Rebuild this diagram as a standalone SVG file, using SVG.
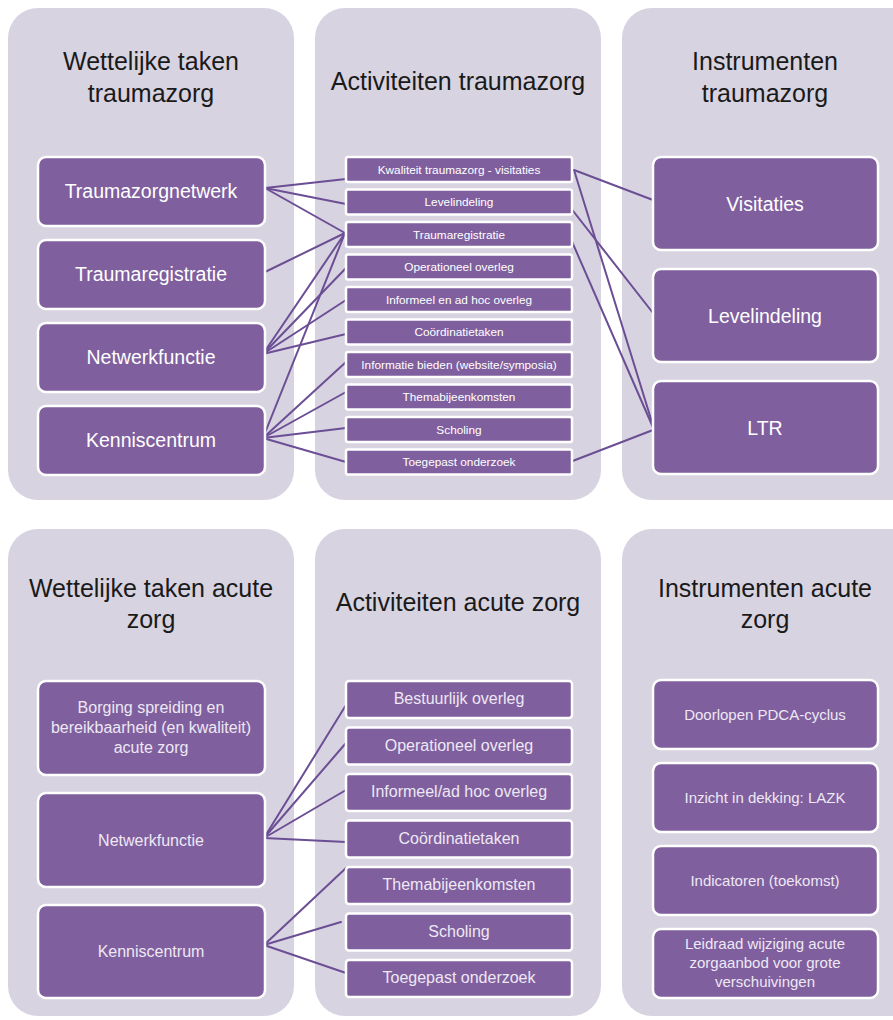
<svg xmlns="http://www.w3.org/2000/svg" width="893" height="1020" viewBox="0 0 893 1020">
<defs>
<style>
.panel{fill:#d8d3e1}
.box{fill:#7f5f9e;stroke:#ffffff;stroke-width:2.5}
.title{font-family:"Liberation Sans",Arial,sans-serif;font-size:25px;fill:#1a1a1a;text-anchor:middle}
.big{font-family:"Liberation Sans",Arial,sans-serif;font-size:19.5px;fill:#ffffff;text-anchor:middle}
.act{font-family:"Liberation Sans",Arial,sans-serif;font-size:11.8px;fill:#ffffff;text-anchor:middle}
.lbl{font-family:"Liberation Sans",Arial,sans-serif;font-size:16px;fill:#eee8f4;text-anchor:middle}
.ins{font-family:"Liberation Sans",Arial,sans-serif;font-size:15px;fill:#eee8f4;text-anchor:middle}
.conn line{stroke:#6b4e94;stroke-width:2;stroke-linecap:round}
</style>
</defs>
<rect width="893" height="1020" fill="#ffffff"/>

<!-- Panels -->
<g id="panel-wettelijk-trauma"><rect class="panel" x="8" y="8" width="286" height="492" rx="30"/>
<text class="title" x="151" y="70">Wettelijke taken</text><text class="title" x="151" y="102">traumazorg</text></g>
<g id="panel-activiteiten-trauma"><rect class="panel" x="315" y="8" width="286" height="492" rx="30"/>
<text class="title" x="458" y="90">Activiteiten traumazorg</text></g>
<g id="panel-instrumenten-trauma"><rect class="panel" x="622" y="8" width="300" height="492" rx="30"/>
<text class="title" x="765" y="70">Instrumenten</text><text class="title" x="765" y="102">traumazorg</text></g>
<g id="panel-wettelijk-acuut"><rect class="panel" x="8" y="529" width="286" height="487" rx="30"/>
<text class="title" x="151" y="597">Wettelijke taken acute</text><text class="title" x="151" y="628">zorg</text></g>
<g id="panel-activiteiten-acuut"><rect class="panel" x="315" y="529" width="286" height="487" rx="30"/>
<text class="title" x="458" y="611">Activiteiten acute zorg</text></g>
<g id="panel-instrumenten-acuut"><rect class="panel" x="622" y="529" width="300" height="487" rx="30"/>
<text class="title" x="765" y="597">Instrumenten acute</text><text class="title" x="765" y="628">zorg</text></g>

<!-- Connectors -->
<g id="connectors" class="conn">
<line x1="265" y1="188" x2="346" y2="179"/>
<line x1="265" y1="188" x2="346" y2="204"/>
<line x1="265" y1="188" x2="345" y2="233"/>
<line x1="265" y1="272" x2="345" y2="233"/>
<line x1="263" y1="354" x2="345" y2="233"/>
<line x1="263" y1="354" x2="346" y2="268"/>
<line x1="263" y1="354" x2="346" y2="300"/>
<line x1="263" y1="354" x2="346" y2="334"/>
<line x1="263" y1="438" x2="345" y2="233"/>
<line x1="263" y1="438" x2="346" y2="362"/>
<line x1="263" y1="438" x2="346" y2="392"/>
<line x1="263" y1="438" x2="346" y2="428"/>
<line x1="263" y1="438" x2="346" y2="462"/>
<line x1="574" y1="170" x2="653" y2="200"/>
<line x1="574" y1="170" x2="655" y2="432"/>
<line x1="570" y1="207" x2="653" y2="313"/>
<line x1="570" y1="237" x2="655" y2="432"/>
<line x1="570" y1="462" x2="653" y2="430"/>
<line x1="264" y1="838" x2="346" y2="705"/>
<line x1="264" y1="838" x2="346" y2="743"/>
<line x1="264" y1="838" x2="346" y2="790"/>
<line x1="264" y1="838" x2="346" y2="842"/>
<line x1="264" y1="945" x2="346" y2="868"/>
<line x1="264" y1="945" x2="341" y2="922"/>
<line x1="264" y1="945" x2="346" y2="973"/>
</g>

<!-- Top-left nodes -->
<g id="w-traumazorgnetwerk"><rect class="box" x="38" y="157" width="227" height="69" rx="8"/><text class="big" x="151" y="198">Traumazorgnetwerk</text></g>
<g id="w-traumaregistratie"><rect class="box" x="38" y="240" width="227" height="69" rx="8"/><text class="big" x="151" y="281">Traumaregistratie</text></g>
<g id="w-netwerkfunctie"><rect class="box" x="38" y="323" width="227" height="69" rx="8"/><text class="big" x="151" y="364">Netwerkfunctie</text></g>
<g id="w-kenniscentrum"><rect class="box" x="38" y="406" width="227" height="69" rx="8"/><text class="big" x="151" y="447">Kenniscentrum</text></g>

<!-- Top-middle nodes -->
<g id="a-kwaliteit"><rect class="box" x="346" y="157" width="226" height="25" rx="2"/><text class="act" x="459" y="173.5">Kwaliteit traumazorg - visitaties</text></g>
<g id="a-levelindeling"><rect class="box" x="346" y="189.5" width="226" height="25" rx="2"/><text class="act" x="459" y="206">Levelindeling</text></g>
<g id="a-traumaregistratie"><rect class="box" x="346" y="222" width="226" height="25" rx="2"/><text class="act" x="459" y="238.5">Traumaregistratie</text></g>
<g id="a-operationeel"><rect class="box" x="346" y="254.5" width="226" height="25" rx="2"/><text class="act" x="459" y="271">Operationeel overleg</text></g>
<g id="a-informeel"><rect class="box" x="346" y="287" width="226" height="25" rx="2"/><text class="act" x="459" y="303.5">Informeel en ad hoc overleg</text></g>
<g id="a-coordinatie"><rect class="box" x="346" y="319.5" width="226" height="25" rx="2"/><text class="act" x="459" y="336">Coördinatietaken</text></g>
<g id="a-informatie"><rect class="box" x="346" y="352" width="226" height="25" rx="2"/><text class="act" x="459" y="368.5">Informatie bieden (website/symposia)</text></g>
<g id="a-thema"><rect class="box" x="346" y="384.5" width="226" height="25" rx="2"/><text class="act" x="459" y="401">Themabijeenkomsten</text></g>
<g id="a-scholing"><rect class="box" x="346" y="417" width="226" height="25" rx="2"/><text class="act" x="459" y="433.5">Scholing</text></g>
<g id="a-toegepast"><rect class="box" x="346" y="449.5" width="226" height="25" rx="2"/><text class="act" x="459" y="466">Toegepast onderzoek</text></g>

<!-- Top-right nodes -->
<g id="i-visitaties"><rect class="box" x="653" y="157" width="225" height="93" rx="8"/><text class="big" x="765" y="211" font-size="20">Visitaties</text></g>
<g id="i-levelindeling"><rect class="box" x="653" y="269" width="225" height="93" rx="8"/><text class="big" x="765" y="323" font-size="20">Levelindeling</text></g>
<g id="i-ltr"><rect class="box" x="653" y="381" width="225" height="93" rx="8"/><text class="big" x="765" y="435" font-size="19">LTR</text></g>

<!-- Bottom-left nodes -->
<g id="wa-borging"><rect class="box" x="38" y="681" width="227" height="94" rx="8"/>
<text class="lbl" x="151" y="713">Borging spreiding en</text><text class="lbl" x="151" y="733">bereikbaarheid (en kwaliteit)</text><text class="lbl" x="151" y="753">acute zorg</text></g>
<g id="wa-netwerkfunctie"><rect class="box" x="38" y="793" width="227" height="94" rx="8"/><text class="lbl" x="151" y="846">Netwerkfunctie</text></g>
<g id="wa-kenniscentrum"><rect class="box" x="38" y="905" width="227" height="93" rx="8"/><text class="lbl" x="151" y="957">Kenniscentrum</text></g>

<!-- Bottom-middle nodes -->
<g id="aa-bestuurlijk"><rect class="box" x="346" y="681" width="226" height="37" rx="3"/><text class="lbl" x="459" y="704">Bestuurlijk overleg</text></g>
<g id="aa-operationeel"><rect class="box" x="346" y="727.5" width="226" height="37" rx="3"/><text class="lbl" x="459" y="751">Operationeel overleg</text></g>
<g id="aa-informeel"><rect class="box" x="346" y="774" width="226" height="37" rx="3"/><text class="lbl" x="459" y="797">Informeel/ad hoc overleg</text></g>
<g id="aa-coordinatie"><rect class="box" x="346" y="820.5" width="226" height="37" rx="3"/><text class="lbl" x="459" y="844">Coördinatietaken</text></g>
<g id="aa-thema"><rect class="box" x="346" y="867" width="226" height="37" rx="3"/><text class="lbl" x="459" y="890">Themabijeenkomsten</text></g>
<g id="aa-scholing"><rect class="box" x="346" y="913.5" width="226" height="37" rx="3"/><text class="lbl" x="459" y="937">Scholing</text></g>
<g id="aa-toegepast"><rect class="box" x="346" y="960" width="226" height="37" rx="3"/><text class="lbl" x="459" y="983">Toegepast onderzoek</text></g>

<!-- Bottom-right nodes -->
<g id="ia-pdca"><rect class="box" x="653" y="680" width="225" height="69" rx="8"/><text class="ins" x="765" y="720">Doorlopen PDCA-cyclus</text></g>
<g id="ia-lazk"><rect class="box" x="653" y="763" width="225" height="69" rx="8"/><text class="ins" x="765" y="803">Inzicht in dekking: LAZK</text></g>
<g id="ia-indicatoren"><rect class="box" x="653" y="846" width="225" height="69" rx="8"/><text class="ins" x="765" y="886">Indicatoren (toekomst)</text></g>
<g id="ia-leidraad"><rect class="box" x="653" y="929" width="225" height="69" rx="8"/>
<text class="ins" x="765" y="949">Leidraad wijziging acute</text><text class="ins" x="765" y="968">zorgaanbod voor grote</text><text class="ins" x="765" y="987">verschuivingen</text></g>
</svg>
